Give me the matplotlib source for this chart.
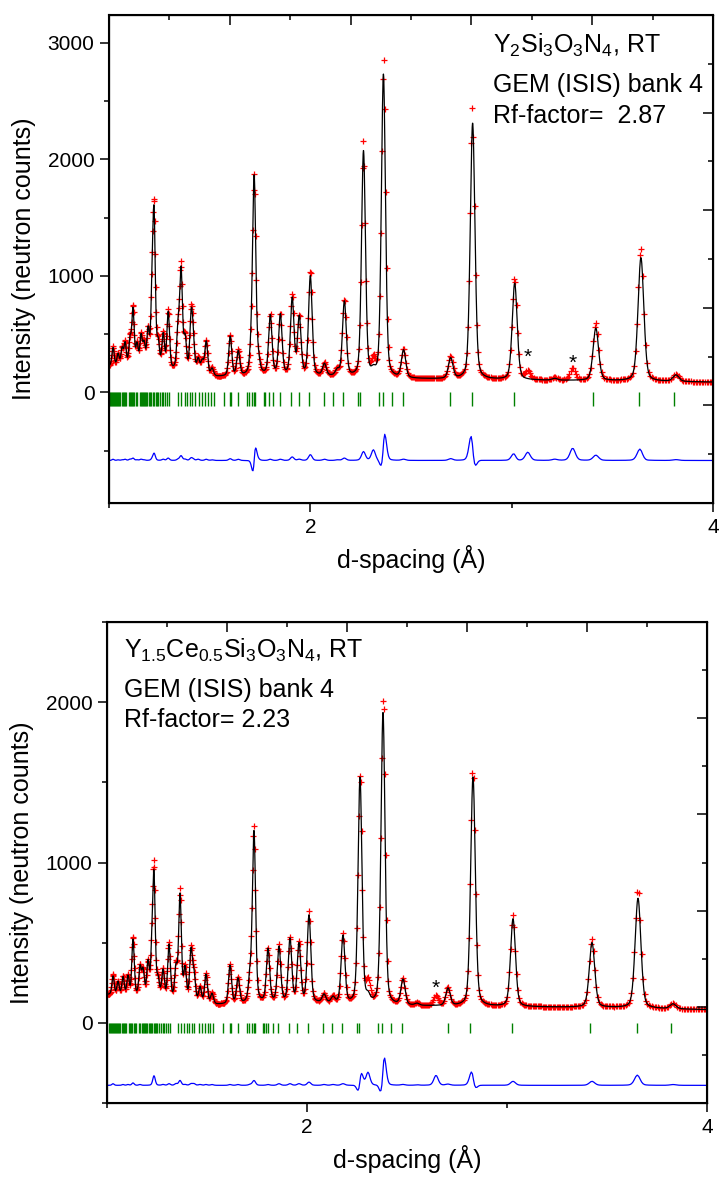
import numpy as np
import matplotlib
matplotlib.use("Agg")
import matplotlib.pyplot as plt
from matplotlib.ticker import MultipleLocator, FixedLocator, NullFormatter

plt.rcParams['font.family'] = ['Liberation Sans', 'DejaVu Sans']
plt.rcParams['mathtext.fontset'] = 'custom'
plt.rcParams['mathtext.rm'] = 'Liberation Sans'
plt.rcParams['mathtext.default'] = 'regular'

# ---- Y2Si3O3N4 (top) ----
top_bg_d = [1.0, 1.2, 1.35, 1.5, 1.65, 1.8, 2.0, 2.2, 2.5, 3.0, 3.5, 4.0]
top_bg_i = [225, 210, 180, 130, 135, 150, 140, 128, 115, 105, 98, 88]
top_peak_d = [1.020, 1.045, 1.065, 1.080, 1.104, 1.119, 1.139, 1.159, 1.174, 1.194,
              1.214, 1.224, 1.244, 1.269, 1.294, 1.343, 1.358, 1.378, 1.408, 1.418,
              1.443, 1.463, 1.483, 1.512, 1.602, 1.642, 1.706, 1.721, 1.741, 1.801,
              1.851, 1.910, 1.945, 2.000, 2.070, 2.134, 2.169, 2.264, 2.313, 2.363,
              2.463, 2.697, 2.806, 3.015, 3.080, 3.214, 3.303, 3.418, 3.642, 3.816]
top_calc_h = [155, 100, 145, 190, 220, 480, 180, 250, 180, 300,
              540, 1200, 200, 280, 480, 340, 840, 270, 450, 240,
              120, 110, 290, 65, 340, 210, 150, 1680, 110, 500,
              510, 650, 490, 850, 100, 50, 640, 1935, 40, 2600,
              235, 175, 2200, 830, 0, 15, 0, 450, 1060, 55]
top_obs_h = [165, 105, 150, 200, 230, 500, 185, 260, 185, 300,
             550, 1260, 200, 290, 500, 350, 880, 280, 470, 250,
             130, 110, 300, 70, 355, 220, 150, 1690, 120, 510,
             520, 680, 500, 900, 110, 55, 660, 2010, 130, 2740,
             245, 190, 2330, 880, 70, 25, 105, 495, 1150, 62]
# small position offsets of the observed peaks (1e-3 A)
top_obs_shift = [0, 0, 0, 0, 0, 0, 0, 0, 0, 0,
                 0, 0, 0, 0, 0, 0, 0, 0, 0, 0,
                 0, 0, 0, 0, 0, 0, 0, 0.8, 0, 0,
                 0, 0, 0, 0, 0, 0, 0, 0, 0, 0.8,
                 0, 0, -1.0, -0.4, 0, 0, 0, 0, -0.5, 0]
top_bragg = [1.000, 1.005, 1.010, 1.015, 1.020, 1.025, 1.030, 1.035, 1.040, 1.046,
             1.051, 1.056, 1.063, 1.068, 1.073, 1.078, 1.083, 1.100, 1.104, 1.109,
             1.116, 1.121, 1.126, 1.133, 1.138, 1.153, 1.158, 1.163, 1.168, 1.174,
             1.179, 1.186, 1.191, 1.198, 1.204, 1.211, 1.217, 1.224, 1.232, 1.237,
             1.245, 1.254, 1.262, 1.270, 1.279, 1.287, 1.299, 1.345, 1.358, 1.375,
             1.387, 1.403, 1.414, 1.428, 1.449, 1.461, 1.478, 1.494, 1.507, 1.522,
             1.569, 1.602, 1.607, 1.643, 1.685, 1.697, 1.710, 1.721, 1.726, 1.768,
             1.776, 1.793, 1.814, 1.847, 1.904, 1.942, 1.995, 2.066, 2.113, 2.163,
             2.235, 2.249, 2.343, 2.362, 2.406, 2.461, 2.692, 2.801, 3.010, 3.403,
             3.632, 3.806]
top_stars = [(3.082, 300), (3.305, 250)]

# ---- Y1.5Ce0.5Si3O3N4 (bottom) ----
bot_bg_d = [1.0, 1.2, 1.35, 1.5, 1.65, 1.8, 2.0, 2.2, 2.5, 3.0, 3.5, 4.0]
bot_bg_i = [175, 165, 140, 110, 115, 128, 125, 115, 105, 100, 95, 82]
bot_peak_d = [1.030, 1.055, 1.080, 1.105, 1.130, 1.165, 1.180, 1.205, 1.225, 1.235,
              1.255, 1.280, 1.310, 1.345, 1.365, 1.390, 1.420, 1.435, 1.465, 1.495,
              1.525, 1.615, 1.655, 1.715, 1.735, 1.805, 1.860, 1.915, 1.960, 2.010,
              2.085, 2.130, 2.180, 2.265, 2.305, 2.380, 2.480, 2.550, 2.645, 2.705,
              2.830, 3.030, 3.425, 3.655, 3.830]
bot_calc_h = [115, 80, 110, 115, 345, 170, 150, 200, 250, 700,
              100, 165, 330, 190, 650, 195, 310, 160, 95, 185,
              65, 240, 155, 145, 1060, 325, 340, 390, 360, 540,
              50, 35, 420, 1410, 40, 1820, 158, 12, 0, 108,
              1430, 547, 403, 685, 30]
bot_obs_h = [125, 80, 115, 120, 360, 175, 150, 200, 250, 760,
             100, 170, 340, 200, 680, 200, 320, 170, 100, 190,
             70, 245, 160, 150, 1090, 330, 350, 400, 370, 560,
             55, 40, 430, 1440, 120, 1925, 163, 15, 62, 115,
             1485, 572, 428, 747, 35]
bot_obs_shift = [0, 0, 0, 0, 0, 0, 0, 0, 0, 0,
                 0, 0, 0, 0, 0, 0, 0, 0, 0, 0,
                 0, 0, 0, 0, 0, 0, 0, 0, 0, 0,
                 0, 0, 0, 0.6, 0, 0.9, 0, 0, 0, 0,
                 -0.6, 0, 0, -0.3, 0]
bot_bragg = [1.010, 1.015, 1.020, 1.027, 1.032, 1.037, 1.042, 1.047, 1.052, 1.057,
             1.062, 1.067, 1.073, 1.078, 1.083, 1.088, 1.093, 1.110, 1.115, 1.122,
             1.127, 1.133, 1.140, 1.145, 1.162, 1.167, 1.173, 1.178, 1.185, 1.190,
             1.197, 1.202, 1.208, 1.213, 1.220, 1.227, 1.233, 1.240, 1.245, 1.252,
             1.262, 1.270, 1.278, 1.285, 1.293, 1.303, 1.313, 1.354, 1.370, 1.385,
             1.399, 1.410, 1.424, 1.437, 1.462, 1.474, 1.490, 1.504, 1.515, 1.532,
             1.582, 1.615, 1.620, 1.654, 1.699, 1.710, 1.724, 1.735, 1.740, 1.779,
             1.785, 1.795, 1.807, 1.829, 1.857, 1.912, 1.952, 2.007, 2.079, 2.124,
             2.174, 2.249, 2.262, 2.357, 2.377, 2.419, 2.477, 2.705, 2.815, 3.025,
             3.415, 3.650, 3.820]
bot_stars = [(2.645, 215)]


def profile(d, centres, heights, shifts, bg_d, bg_i):
    y = np.interp(d, bg_d, bg_i)
    for c, h, s in zip(centres, heights, shifts):
        fwhm = 0.005 + 0.008 * c
        x = (d - c - s * 1e-3) / fwhm
        y = y + h * (0.7 * np.exp(-4 * np.log(2) * x ** 2) + 0.3 / (1 + 4 * x ** 2))
    return y


def panel(ax, peak_d, calc_h, obs_h, shift, bg_d, bg_i, bragg, tick_len, diff_off,
          stars, ylim):
    d_obs = np.geomspace(1.0, 4.0, 700)
    d_fine = np.geomspace(1.0, 4.0, 5000)
    zero = [0] * len(peak_d)
    obs = profile(d_obs, peak_d, obs_h, shift, bg_d, bg_i)
    calc_at_obs = profile(d_obs, peak_d, calc_h, zero, bg_d, bg_i)
    calc = profile(d_fine, peak_d, calc_h, zero, bg_d, bg_i)

    ax.plot(d_obs, obs, '+', color='red', ms=5, mew=0.9, zorder=2)
    ax.plot(d_fine, calc, '-', color='black', lw=0.9, zorder=3)
    ax.vlines(bragg, -tick_len, 0, color='#008000', lw=1.0)
    ax.plot(d_obs, obs - calc_at_obs + diff_off, '-', color='blue', lw=0.9)
    for sx, sy in stars:
        ax.text(sx, sy, '*', ha='center', va='center', fontsize=15)

    ax.set_xlim(1.0, 4.0)
    ax.set_ylim(*ylim)
    ax.xaxis.set_major_locator(MultipleLocator(2))
    ax.xaxis.set_minor_locator(MultipleLocator(1))
    ax.yaxis.set_major_locator(MultipleLocator(1000))
    ax.yaxis.set_minor_locator(MultipleLocator(500))
    ax.tick_params(which='both', direction='out', width=1.1, labelsize=15, pad=4,
                   top=False, right=False)
    ax.tick_params(which='major', length=6.5)
    ax.tick_params(which='minor', length=3.5)
    for sp in ax.spines.values():
        sp.set_linewidth(1.5)
    ax.set_xlabel('d-spacing (Å)', fontsize=18, labelpad=6)
    ax.set_ylabel('Intensity (neutron counts)', fontsize=18, labelpad=8)

    # unlabeled top / right scales with ten divisions
    tx = ax.twiny()
    tx.set_xlim(0, 1)
    tx.xaxis.set_major_locator(FixedLocator([0.2, 0.4, 0.6, 0.8]))
    tx.xaxis.set_minor_locator(FixedLocator([0.1, 0.3, 0.5, 0.7, 0.9]))
    tx.xaxis.set_major_formatter(NullFormatter())
    tx.xaxis.set_tick_params(which='both', direction='in', width=1.1,
                             top=True, bottom=False, labeltop=False, labelbottom=False)
    tx.xaxis.set_tick_params(which='major', length=7)
    tx.xaxis.set_tick_params(which='minor', length=3.5)
    tx.yaxis.set_visible(False)

    ty = ax.twinx()
    ty.set_ylim(0, 1)
    ty.yaxis.set_major_locator(FixedLocator([0.2, 0.4, 0.6, 0.8]))
    ty.yaxis.set_minor_locator(FixedLocator([0.1, 0.3, 0.5, 0.7, 0.9]))
    ty.yaxis.set_major_formatter(NullFormatter())
    ty.yaxis.set_tick_params(which='both', direction='in', width=1.1,
                             right=True, left=False, labelright=False, labelleft=False)
    ty.yaxis.set_tick_params(which='major', length=7)
    ty.yaxis.set_tick_params(which='minor', length=3.5)
    ty.xaxis.set_visible(False)


W, H = 721, 1177
fig = plt.figure(figsize=(W / 100, H / 100), dpi=100)

ax1 = fig.add_axes([109 / W, 1 - 503 / H, 604 / W, 488 / H])
panel(ax1, top_peak_d, top_calc_h, top_obs_h, top_obs_shift, top_bg_d, top_bg_i,
      top_bragg, 120, -585, top_stars, (-950, 3240))

ax2 = fig.add_axes([107 / W, 1 - 1103 / H, 600 / W, 481 / H])
panel(ax2, bot_peak_d, bot_calc_h, bot_obs_h, bot_obs_shift, bot_bg_d, bot_bg_i,
      bot_bragg, 65, -390, bot_stars, (-500, 2500))

fs = 18
fig.text(493 / W, 1 - 53 / H, r'Y$_2$Si$_3$O$_3$N$_4$, RT', fontsize=fs, va='baseline')
fig.text(493 / W, 1 - 92 / H, 'GEM (ISIS) bank 4', fontsize=fs, va='baseline')
fig.text(493 / W, 1 - 123 / H, 'Rf-factor=  2.87', fontsize=fs, va='baseline')

fig.text(124 / W, 1 - 658 / H, r'Y$_{1.5}$Ce$_{0.5}$Si$_3$O$_3$N$_4$, RT', fontsize=fs,
         va='baseline')
fig.text(124 / W, 1 - 697 / H, 'GEM (ISIS) bank 4', fontsize=fs, va='baseline')
fig.text(124 / W, 1 - 727 / H, 'Rf-factor= 2.23', fontsize=fs, va='baseline')

fig.savefig('out.png', dpi=100)
